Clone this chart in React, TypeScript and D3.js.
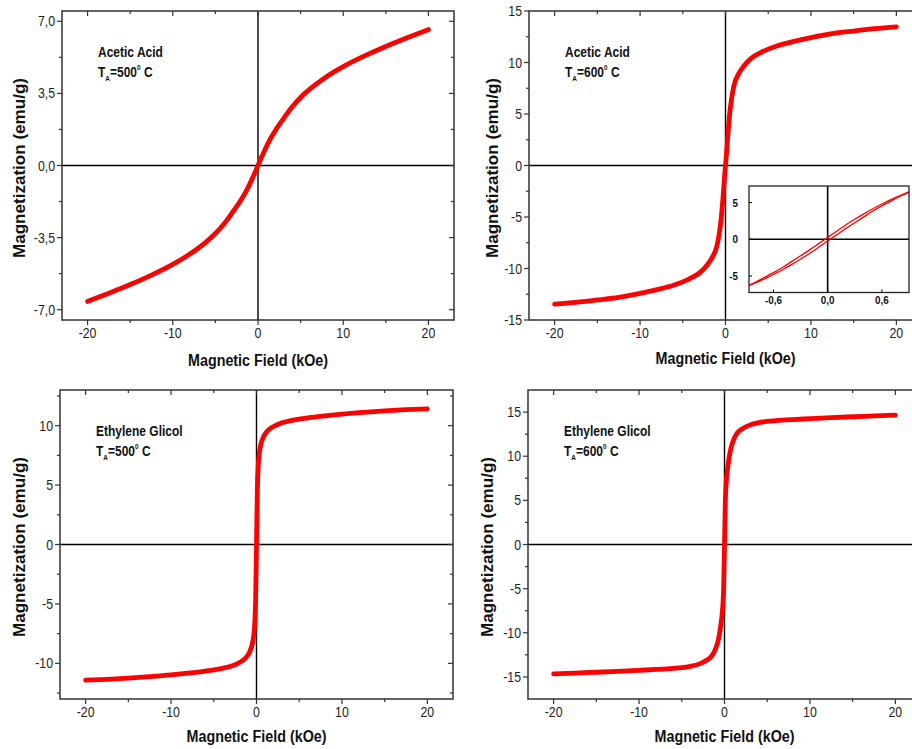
import { useRef, useEffect } from "react";
import * as d3 from "d3";

// applied field (kOe), shared by the four main curves
const field = [-20, -17.5, -15, -12.5, -10, -8, -6, -5, -4, -3, -2, -1.5, -1, -0.75, -0.5, -0.3, -0.2, -0.1, 0,
  0.1, 0.2, 0.3, 0.5, 0.75, 1, 1.5, 2, 3, 4, 5, 6, 8, 10, 12.5, 15, 17.5, 20];

// magnetization (emu/g)
const acetic500 = [-6.6, -6.2, -5.78, -5.32, -4.8, -4.3, -3.68, -3.3, -2.84, -2.28, -1.68, -1.33, -0.93, -0.71, -0.48, -0.29, -0.19, -0.1, 0,
  0.1, 0.19, 0.29, 0.48, 0.71, 0.93, 1.33, 1.68, 2.28, 2.84, 3.3, 3.68, 4.3, 4.8, 5.32, 5.78, 6.2, 6.6];
const acetic600 = [-13.45, -13.28, -13.05, -12.8, -12.42, -12.05, -11.6, -11.3, -10.9, -10.4, -9.5, -8.85, -7.8, -6.7, -5.1, -3.2, -2.1, -1.0, 0,
  1.0, 2.1, 3.2, 5.1, 6.7, 7.8, 8.85, 9.5, 10.4, 10.9, 11.3, 11.6, 12.05, 12.42, 12.8, 13.05, 13.28, 13.45];
const ethylene500 = [-11.42, -11.35, -11.25, -11.12, -10.97, -10.82, -10.65, -10.55, -10.42, -10.25, -9.93, -9.7, -9.3, -8.95, -8.4, -7.5, -6.6, -4.6, 0,
  4.6, 6.6, 7.5, 8.4, 8.95, 9.3, 9.7, 9.93, 10.25, 10.42, 10.55, 10.65, 10.82, 10.97, 11.12, 11.25, 11.35, 11.42];
const ethylene600 = [-14.65, -14.56, -14.47, -14.37, -14.25, -14.15, -14.03, -13.95, -13.8, -13.55, -13.05, -12.65, -11.7, -10.9, -9.6, -8.1, -7.0, -5.0, 0,
  5.0, 7.0, 8.1, 9.6, 10.9, 11.7, 12.65, 13.05, 13.55, 13.8, 13.95, 14.03, 14.15, 14.25, 14.37, 14.47, 14.56, 14.65];

// inset: low-field loop of the acetic acid 600 C sample
const insetField = [-0.9, -0.8, -0.7, -0.6, -0.5, -0.4, -0.3, -0.2, -0.1, 0, 0.1, 0.2, 0.3, 0.4, 0.5, 0.6, 0.7, 0.8, 0.9];
const insetUpper = [-6.4, -5.85, -5.2, -4.55, -3.85, -3.05, -2.25, -1.45, -0.6, 0.25, 1.1, 1.95, 2.72, 3.45, 4.15, 4.8, 5.4, 5.95, 6.45];
const insetLower = [-6.45, -5.95, -5.4, -4.8, -4.15, -3.45, -2.72, -1.95, -1.1, -0.25, 0.6, 1.45, 2.25, 3.05, 3.85, 4.55, 5.2, 5.85, 6.4];
const insetXTicks = [-0.6, 0, 0.6];
const insetXLabels = ["-0,6", "0,0", "0,6"];
const insetYTicks = [-5, 0, 5];

const xTicks = [-20, -10, 0, 10, 20];
const xMinor = [-15, -5, 5, 15];

const yTicksA = [-7, -3.5, 0, 3.5, 7];
const yLabelsA = ["-7,0", "-3,5", "0,0", "3,5", "7,0"];
const yMinorA = [-5.25, -1.75, 1.75, 5.25];
const yTicks15 = [-15, -10, -5, 0, 5, 10, 15];
const yTicks10 = [-10, -5, 0, 5, 10];
const yMinor25 = [-12.5, -7.5, -2.5, 2.5, 7.5, 12.5];

const panels = [
  { id: "a", values: acetic500, box: [62, 454, 11, 320], yDom: [-7.5, 7.5], yTicks: yTicksA, yLabels: yLabelsA, yMinor: yMinorA,
    title: "Acetic Acid", temp: "=500", ylab: [25, 168], xlab: 366 },
  { id: "b", values: acetic600, box: [529, 922, 11, 320], yDom: [-15, 15], yTicks: yTicks15, yLabels: yTicks15.map(String), yMinor: yMinor25,
    title: "Acetic Acid", temp: "=600", ylab: [498, 168], xlab: 364 },
  { id: "c", values: ethylene500, box: [60, 453, 390, 699], yDom: [-13, 13], yTicks: yTicks10, yLabels: yTicks10.map(String), yMinor: yMinor25,
    title: "Ethylene Glicol", temp: "=500", ylab: [25, 547], xlab: 742 },
  { id: "d", values: ethylene600, box: [528, 921, 390, 699], yDom: [-17.5, 17.5], yTicks: yTicks15, yLabels: yTicks15.map(String), yMinor: yMinor25,
    title: "Ethylene Glicol", temp: "=600", ylab: [493, 547], xlab: 742 },
];

const FONT = "Arial, 'Liberation Sans', Helvetica, sans-serif";

const App = () => {
  const svgRef = useRef(null);

  useEffect(() => {
    const svg = d3.select(svgRef.current);
    svg.selectAll("*").remove();

    const label = (g, x, y, s, size, opts: any = {}) =>
      g.append("text")
        .attr("transform", `translate(${x},${y}) scale(${opts.sx ?? 0.88},1)`)
        .attr("text-anchor", opts.anchor ?? "middle")
        .attr("font-family", FONT)
        .attr("font-size", size)
        .attr("font-weight", opts.weight ?? "normal")
        .attr("fill", opts.fill ?? "#222")
        .text(s);

    panels.forEach(p => {
      const [l, r, t, b] = p.box;
      const x = d3.scaleLinear().domain([-23, 23]).range([l, r]);
      const y = d3.scaleLinear().domain(p.yDom).range([b, t]);
      const g = svg.append("g");

      g.append("clipPath").attr("id", "clip-" + p.id)
        .append("rect").attr("x", l).attr("y", t).attr("width", r - l).attr("height", b - t);

      // zero lines
      g.append("line").attr("x1", l).attr("x2", r).attr("y1", y(0)).attr("y2", y(0))
        .attr("stroke", "#000").attr("stroke-width", 1.4);
      g.append("line").attr("x1", x(0)).attr("x2", x(0)).attr("y1", t).attr("y2", b)
        .attr("stroke", "#000").attr("stroke-width", 1.4);

      // ticks
      const tick = (x1, y1, x2, y2) => g.append("line").attr("x1", x1).attr("y1", y1).attr("x2", x2).attr("y2", y2)
        .attr("stroke", "#333").attr("stroke-width", 1.2);
      xTicks.forEach(v => { tick(x(v), b, x(v), b + 5); tick(x(v), t, x(v), t + 5); });
      xMinor.forEach(v => { tick(x(v), b, x(v), b + 3); tick(x(v), t, x(v), t + 3); });
      p.yTicks.forEach(v => { tick(l, y(v), l - 5, y(v)); tick(r, y(v), r - 5, y(v)); });
      p.yMinor.forEach(v => { tick(l, y(v), l - 3, y(v)); tick(r, y(v), r - 3, y(v)); });

      // frame
      g.append("rect").attr("x", l).attr("y", t).attr("width", r - l).attr("height", b - t)
        .attr("fill", "none").attr("stroke", "#333").attr("stroke-width", 1.5);

      // tick labels
      xTicks.forEach(v => label(g, x(v), b + 18, String(v), 14));
      p.yTicks.forEach((v, i) => label(g, l - 7, y(v) + 5, p.yLabels[i], 14, { anchor: "end" }));

      // curve
      const line = d3.line<number>().x((d, i) => x(field[i])).y(d => y(d)).curve(d3.curveMonotoneX);
      g.append("path").datum(p.values).attr("d", line).attr("clip-path", `url(#clip-${p.id})`)
        .attr("fill", "none").attr("stroke", "#ff0000").attr("stroke-width", 4.8)
        .attr("stroke-linecap", "round").attr("stroke-linejoin", "round");

      // axis titles
      g.append("text")
        .attr("transform", `translate(${p.ylab[0]},${p.ylab[1]}) rotate(-90)`)
        .attr("text-anchor", "middle").attr("font-family", FONT).attr("font-size", 17)
        .attr("font-weight", "bold").attr("fill", "#111")
        .attr("textLength", 180).attr("lengthAdjust", "spacingAndGlyphs")
        .text("Magnetization (emu/g)");
      g.append("text")
        .attr("x", x(0)).attr("y", p.xlab)
        .attr("text-anchor", "middle").attr("font-family", FONT).attr("font-size", 16)
        .attr("font-weight", "bold").attr("fill", "#111")
        .attr("textLength", 140).attr("lengthAdjust", "spacingAndGlyphs")
        .text("Magnetic Field (kOe)");

      // annotation
      const ax = l + 36;
      label(g, ax, t + 46, p.title, 15, { anchor: "start", weight: "bold", sx: 0.8, fill: "#111" });
      const tt = g.append("text")
        .attr("transform", `translate(${ax},${t + 66}) scale(0.8,1)`)
        .attr("font-family", FONT).attr("font-weight", "bold").attr("font-size", 15).attr("fill", "#111");
      tt.append("tspan").text("T");
      tt.append("tspan").attr("font-size", 8).attr("dy", 4).text("A");
      tt.append("tspan").attr("dy", -4).text(p.temp);
      tt.append("tspan").attr("font-size", 8).attr("dy", -7).text("0");
      tt.append("tspan").attr("dy", 7).text(" C");
    });

    // inset in panel b
    const il = 749, ir = 909, it = 186, ib = 292.5;
    const xi = d3.scaleLinear().domain([-0.87, 0.9]).range([il, ir]);
    const yi = d3.scaleLinear().domain([-7.25, 7.25]).range([ib, it]);
    const gi = svg.append("g");
    gi.append("clipPath").attr("id", "clip-inset")
      .append("rect").attr("x", il).attr("y", it).attr("width", ir - il).attr("height", ib - it);
    gi.append("rect").attr("x", il).attr("y", it).attr("width", ir - il).attr("height", ib - it).attr("fill", "#fff");
    gi.append("line").attr("x1", il).attr("x2", ir).attr("y1", yi(0)).attr("y2", yi(0)).attr("stroke", "#000").attr("stroke-width", 1.6);
    gi.append("line").attr("x1", xi(0)).attr("x2", xi(0)).attr("y1", it).attr("y2", ib).attr("stroke", "#000").attr("stroke-width", 1.6);
    const iline = d3.line<number>().x((d, i) => xi(insetField[i])).y(d => yi(d)).curve(d3.curveMonotoneX);
    [insetUpper, insetLower].forEach(s => {
      gi.append("path").datum(s).attr("d", iline).attr("clip-path", "url(#clip-inset)")
        .attr("fill", "none").attr("stroke", "#ff0000").attr("stroke-width", 1.3);
    });
    insetXTicks.forEach((v, i) => {
      gi.append("line").attr("x1", xi(v)).attr("x2", xi(v)).attr("y1", ib).attr("y2", ib - 3).attr("stroke", "#000");
      label(gi, xi(v), ib + 11, insetXLabels[i], 11, { weight: "bold", sx: 0.9, fill: "#111" });
    });
    insetYTicks.forEach(v => {
      gi.append("line").attr("x1", il).attr("x2", il + 3).attr("y1", yi(v)).attr("y2", yi(v)).attr("stroke", "#000");
      label(gi, il - 11, yi(v) + 4, String(v), 11, { anchor: "end", weight: "bold", sx: 0.9, fill: "#111" });
    });
    gi.append("rect").attr("x", il).attr("y", it).attr("width", ir - il).attr("height", ib - it)
      .attr("fill", "none").attr("stroke", "#222").attr("stroke-width", 1.3);
  }, []);

  return (
    <svg ref={svgRef} width={912} height={749}
      style={{ position: "absolute", left: 0, top: 0, background: "#fff" }}></svg>
  );
};

export default App;
